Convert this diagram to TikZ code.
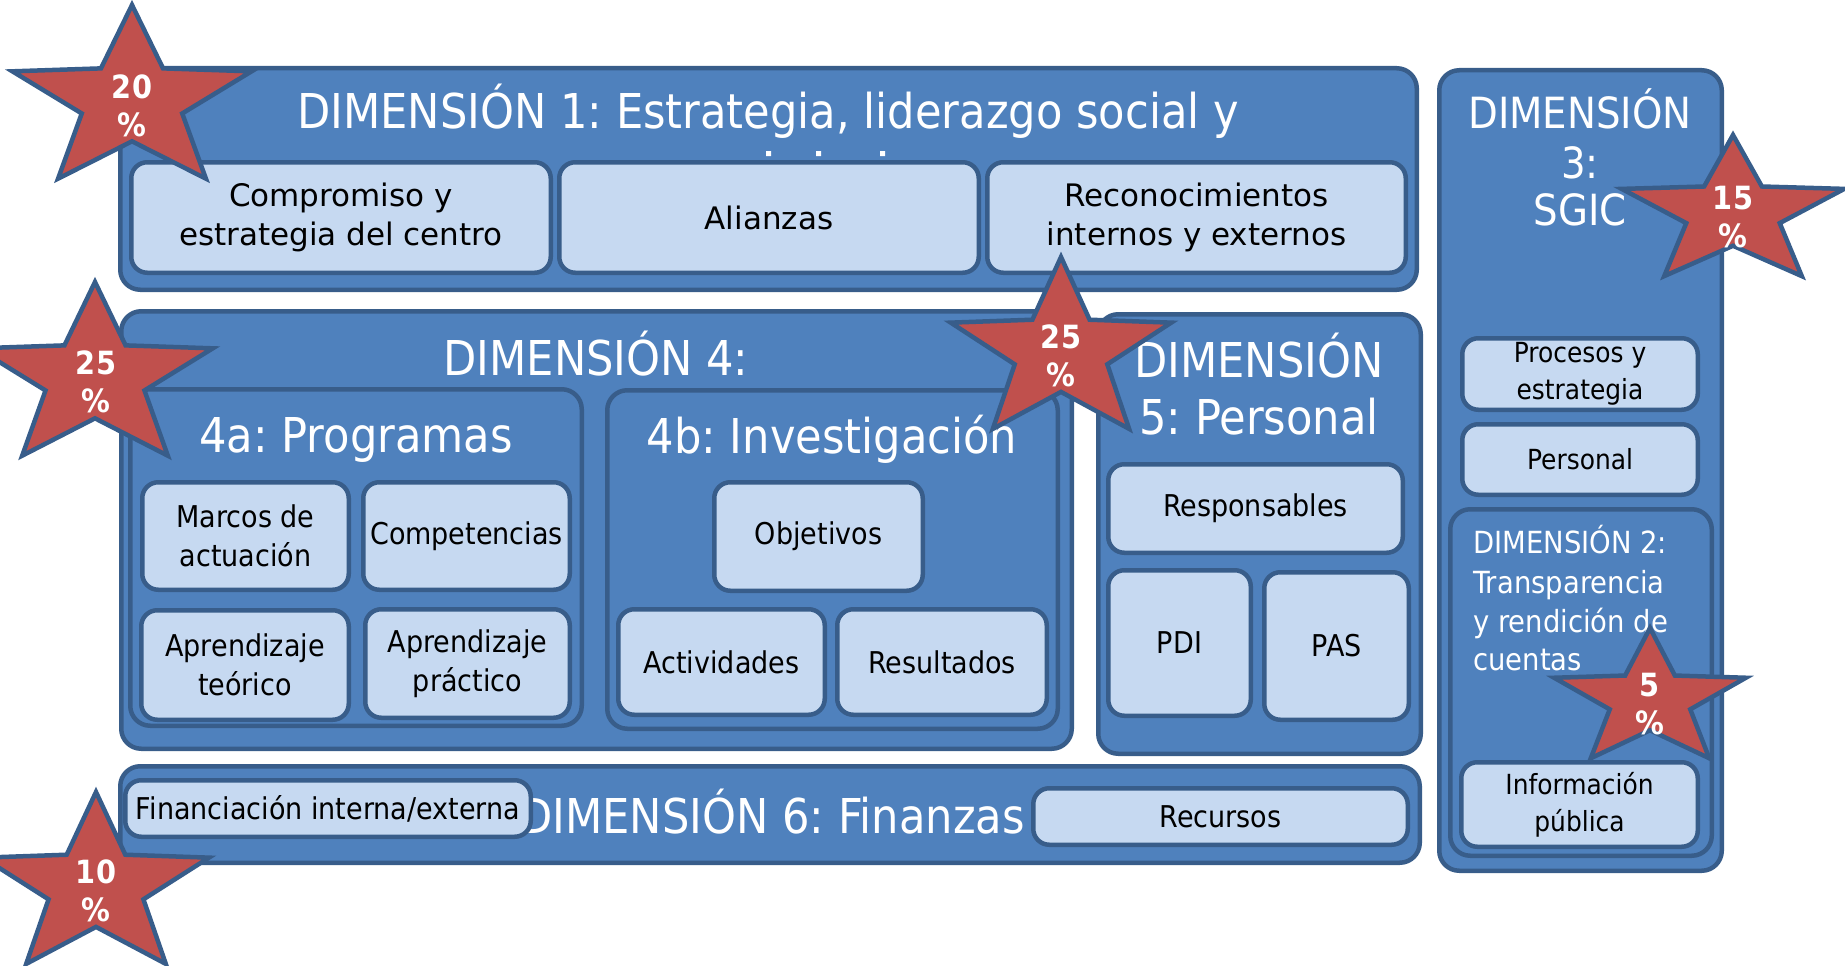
\documentclass[tikz,border=0pt]{standalone}
\usepackage{fontspec}
\setmainfont{DejaVu Sans}
\newfontfamily\cf{DejaVu Sans}[FakeStretch=0.9]
\frenchspacing
\definecolor{dimfill}{HTML}{4F81BD}
\definecolor{edge}{HTML}{385D8A}
\definecolor{subfill}{HTML}{C6D9F1}
\definecolor{starfill}{HTML}{C0504D}
\newcommand{\fsz}[2]{\fontsize{#1}{#2}\selectfont}
\newcommand{\bx}[7]{%
  \pgfmathsetmacro{\bxw}{#4-#2-4.5}%
  \pgfmathsetmacro{\bxh}{#5-#3-4.5}%
  \pgfmathsetmacro{\bxcx}{(#2+#4)/2}%
  \pgfmathsetmacro{\bxcy}{(#3+#5)/2}%
  \node[#6, minimum width=\bxw pt, minimum height=\bxh pt] (#1) at (\bxcx,\bxcy) {#7};}
\newcommand{\redstar}[4]{%
  \begin{scope}[shift={(#1,#2)}, xscale=#4, yscale=-1]
    \draw[starsty] (90:#3) -- (126:0.42*#3) -- (162:#3) -- (198:0.42*#3) -- (234:#3) -- (270:0.42*#3) -- (306:#3) -- (342:0.42*#3) -- (18:#3) -- (54:0.42*#3) -- cycle;
  \end{scope}}
\tikzset{
  dimbox/.style={draw=edge, fill=dimfill, line width=4.5pt, rounded corners=20pt, inner sep=0pt},
  subbox/.style={draw=edge, fill=subfill, line width=4.5pt, rounded corners=16pt, inner sep=0pt, align=center, text=black},
  ttl/.style={text=white, inner sep=0pt, anchor=base, font=\cf\fsz{48}{57}},
  s1font/.style={font=\fsz{31}{39}},
  s4font/.style={font=\cf\fsz{30}{39}},
  s3font/.style={font=\cf\fsz{27.7}{37}},
  s6font/.style={font=\cf\fsz{30}{38}},
  d3font/.style={text=white, inner sep=0pt, anchor=base, font=\cf\fsz{43}{49}},
  d2font/.style={text=white, inner sep=0pt, anchor=base west, font=\cf\fsz{30.5}{39}},
  startxt/.style={text=white, inner sep=0pt, align=center, font=\cf\bfseries\fsz{32}{38}},
  starsty/.style={draw=edge, fill=starfill, line width=4.5pt, line join=miter},
}
\begin{document}
\begin{tikzpicture}[x=1pt, y=-1pt]
\useasboundingbox (0,0) rectangle (1845,966);
% Dimension 1
\bx{d1}{118}{66}{1419}{292}{dimbox}{}
\node[ttl] (d1t) at (768,128) {DIMENSIÓN 1: Estrategia, liderazgo social y};
\fill[white] (766,151) rectangle (771,156) (816,151) rectangle (821,156) (880,151) rectangle (885,156);
\bx{d1a}{129}{160}{553}{275}{subbox, s1font}{Compromiso y\\estrategia del centro}
\bx{d1b}{557}{160}{981}{275}{subbox, s1font}{Alianzas}
\bx{d1c}{985}{160}{1408}{275}{subbox, s1font}{Reconocimientos\\internos y externos}
% Dimension 3
\bx{d3}{1437}{68}{1724}{873}{dimbox}{}
\node[d3font] (d3t1) at (1580,128) {DIMENSIÓN};
\node[d3font] (d3t2) at (1580,178) {3:};
\node[d3font] (d3t3) at (1580,225) {SGIC};
\bx{d3a}{1460}{336}{1700}{412}{subbox, s3font}{Procesos y\\estrategia}
\bx{d3b}{1460}{422}{1700}{497}{subbox, s3font}{Personal}
\bx{d2}{1448}{507}{1714}{858}{dimbox}{}
\node[d2font] (d2t1) at (1473,553) {DIMENSIÓN 2:};
\node[d2font] (d2t2) at (1473,593) {Transparencia};
\node[d2font] (d2t3) at (1473,632) {y rendición de};
\node[d2font] (d2t4) at (1473,670) {cuentas};
\bx{d2a}{1459}{760}{1700}{849}{subbox, s3font}{Información\\pública}
% Dimension 4
\bx{d4}{119}{309}{1074}{751}{dimbox}{}
\node[ttl] (d4t) at (596,375) {DIMENSIÓN 4:};
\bx{d4a}{128}{387}{584}{728}{dimbox}{}
\node[ttl] (d4at) at (356,452) {4a: Programas};
\bx{m1}{140}{480}{351}{592}{subbox, s4font}{Marcos de\\actuación}
\bx{m2}{361}{480}{572}{592}{subbox, s4font}{Competencias}
\bx{m3}{139}{608}{351}{722}{subbox, s4font}{Aprendizaje\\teórico}
\bx{m4}{363}{607}{572}{720}{subbox, s4font}{Aprendizaje\\práctico}
\bx{d4b}{605}{388}{1060}{731}{dimbox}{}
\node[ttl] (d4bt) at (832,453) {4b: Investigación};
\bx{o1}{712}{480}{925}{593}{subbox, s4font}{Objetivos}
\bx{o2}{616}{607}{827}{717}{subbox, s4font}{Actividades}
\bx{o3}{835}{607}{1049}{717}{subbox, s4font}{Resultados}
% Dimension 5
\bx{d5}{1096}{312}{1423}{756}{dimbox}{}
\node[ttl] (d5t1) at (1259,377) {DIMENSIÓN};
\node[ttl] (d5t2) at (1259,434) {5: Personal};
\bx{r1}{1106}{462}{1405}{555}{subbox, s4font}{Responsables}
\bx{r2}{1106}{568}{1253}{718}{subbox, s4font}{PDI}
\bx{r3}{1262}{570}{1411}{722}{subbox, s4font}{PAS}
% Dimension 6
\bx{d6}{118}{764}{1422}{865}{dimbox}{}
\node[ttl] (d6t) at (772,833) {DIMENSIÓN 6: Finanzas};
\bx{f1}{123}{778}{533}{839}{subbox, s6font}{Financiación interna/externa}
\bx{f2}{1031}{786}{1410}{847}{subbox, s6font}{Recursos}
% Stars
\redstar{132}{101}{96}{1.31}
\node[startxt] (st1) at (132,106) {20\\\%};
\redstar{1733}{213}{78}{1.5}
\node[startxt] (st2) at (1733,217) {15\\\%};
\redstar{95}{378}{96}{1.29}
\node[startxt] (st3) at (96,382) {25\\\%};
\redstar{1061}{352}{95}{1.22}
\node[startxt] (st4) at (1061,356) {25\\\%};
\redstar{1650}{700}{72}{1.4}
\node[startxt] (st5) at (1650,704) {5\\\%};
\redstar{96}{887}{95}{1.25}
\node[startxt] (st6) at (96,891) {10\\\%};
\end{tikzpicture}
\end{document}
